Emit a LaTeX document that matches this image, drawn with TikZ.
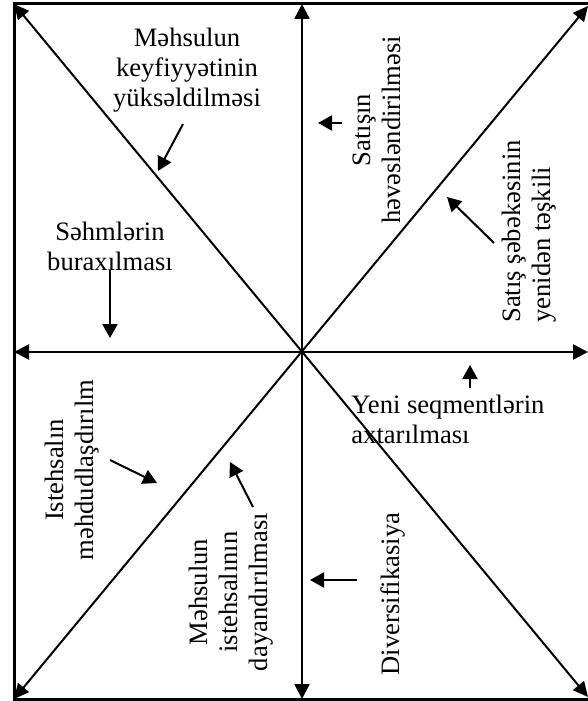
\documentclass[tikz,border=0pt]{standalone}
\usepackage{fontspec}
\setmainfont{Liberation Serif}
\usetikzlibrary{arrows.meta}
\begin{document}
\begin{tikzpicture}[x=0.5bp,y=-0.5bp,
  frame/.style={line width=1.5bp},
  axis/.style={line width=1.2bp,{Triangle[length=7.5bp,width=7.5bp]}-{Triangle[length=7.5bp,width=7.5bp]}},
  diag/.style={line width=1bp,{Triangle[length=7.5bp,width=7bp]}-{Triangle[length=7.5bp,width=7bp]}},
  pointer/.style={line width=1bp,-{Triangle[length=7bp,width=7.5bp]}},
  label/.style={inner sep=0pt,font=\fontsize{13.3bp}{15bp}\selectfont},
  vlabel/.style={label,rotate=90}]
\useasboundingbox (0,0) rectangle (588,701);

% outer frame (open on the right)
\coordinate (TL) at (14,4);
\coordinate (BL) at (14,699);
\coordinate (TR) at (588,4);
\coordinate (BR) at (588,699);
\draw[frame] (TR) -- (TL) -- (BL) -- (BR);

% axes and diagonals through the centre
\coordinate (T) at (302,4);
\coordinate (B) at (302,699);
\coordinate (L) at (14,352);
\coordinate (R) at (588,352);
\coordinate (dTL) at (14,4);
\coordinate (dBR) at (588,697);
\coordinate (dBL) at (14,699);
\coordinate (dTR) at (588,6);
\draw[axis] (T) -- (B);
\draw[axis] (L) -- (R);
\draw[diag] (dTL) -- (dBR);
\draw[diag] (dBL) -- (dTR);

% sector labels
\node[label,align=center] (q1) at (187,70) {Məhsulun\\keyfiyyətinin\\yüksəldilməsi};
\node[label,align=center] (q2) at (110,246) {Səhmlərin\\buraxılması};
\node[vlabel,align=center] (q3) at (377,130) {Satışın\\həvəsləndirilməsi};
\node[vlabel,align=left,anchor=west] (q4) at (529,323) {Satış şəbəkəsinin\\yenidən təşkili};
\node[label,align=left,anchor=west] (q5) at (351,419) {Yeni seqmentlərin\\axtarılması};
\node[vlabel,align=center] (q6) at (72,470) {Istehsalın\\məhdudlaşdırılm};
\node[vlabel,align=center] (q7) at (231,592) {Məhsulun\\istehsalının\\dayandırılması};
\node[vlabel] (q8) at (393,594) {Diversifikasiya};

% pointer arrows
\coordinate (a1s) at (183,124); \coordinate (a1e) at (158,171);
\coordinate (a2s) at (110,270); \coordinate (a2e) at (110,338);
\coordinate (a3s) at (342,123); \coordinate (a3e) at (318,123);
\coordinate (a4s) at (494,243); \coordinate (a4e) at (447,197);
\coordinate (a5s) at (470,388); \coordinate (a5e) at (470,365);
\coordinate (a6s) at (110,460); \coordinate (a6e) at (157,483);
\coordinate (a7s) at (253,507); \coordinate (a7e) at (230,462);
\coordinate (a8s) at (357,580); \coordinate (a8e) at (310,580);
\foreach \i in {1,...,8} \draw[pointer] (a\i s) -- (a\i e);
\end{tikzpicture}
\end{document}
